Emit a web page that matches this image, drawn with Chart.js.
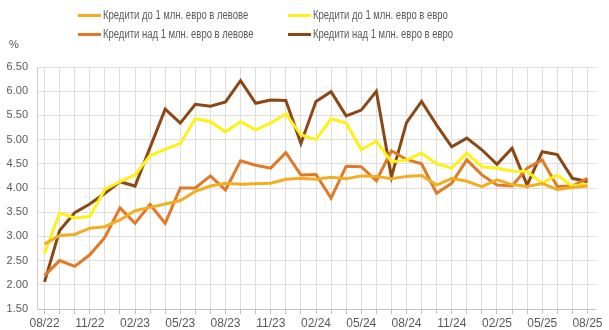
<!DOCTYPE html>
<html lang="bg">
<head>
<meta charset="utf-8">
<title>Лихвени проценти по кредити</title>
<script src="https://cdn.jsdelivr.net/npm/chart.js@4/dist/chart.umd.min.js"></script>
<style>
  body { margin: 0; background: #fff; }
  #caja { position: relative; width: 609px; height: 330px; font-family: "Liberation Sans", Arial, sans-serif; color: #595959; }
  #grafico { position: absolute; left: 0; top: 0; }
  .leyenda { position: absolute; display: flex; align-items: center; font-size: 12px; white-space: nowrap; }
  .leyenda span.linea { display: inline-block; width: 23px; height: 3px; margin-right: 2px; }
  .leyenda span.texto { display: inline-block; transform: scaleX(0.79); transform-origin: left center; }
  #pct { position: absolute; left: 9px; top: 38px; font-size: 11px; }
</style>
</head>
<body>
<div id="caja">
  <canvas id="grafico" width="609" height="330"></canvas>
  <div id="leyendas"></div>
  <div id="pct">%</div>
</div>
<script>
const meses = [
  "08/22", "09/22", "10/22", "11/22", "12/22", "01/23", "02/23", "03/23", "04/23", "05/23",
  "06/23", "07/23", "08/23", "09/23", "10/23", "11/23", "12/23", "01/24", "02/24", "03/24",
  "04/24", "05/24", "06/24", "07/24", "08/24", "09/24", "10/24", "11/24", "12/24", "01/25",
  "02/25", "03/25", "04/25", "05/25", "06/25", "07/25", "08/25"
];

const hastaMillonLeva = [
  2.84, 3.02, 3.04, 3.17, 3.20, 3.34, 3.53, 3.60, 3.67, 3.74,
  3.93, 4.04, 4.10, 4.08, 4.09, 4.10, 4.18, 4.20, 4.18, 4.22,
  4.19, 4.25, 4.24, 4.19, 4.24, 4.26, 4.06, 4.20, 4.14, 4.03,
  4.17, 4.07, 4.03, 4.09, 3.97, 4.01, 4.04
];

const hastaMillonEuro = [
  2.65, 3.48, 3.38, 3.41, 3.97, 4.13, 4.27, 4.67, 4.80, 4.92,
  5.43, 5.37, 5.16, 5.37, 5.20, 5.34, 5.53, 5.10, 5.00, 5.43,
  5.34, 4.79, 4.97, 4.54, 4.58, 4.72, 4.50, 4.41, 4.72, 4.44,
  4.41, 4.35, 4.34, 4.10, 4.27, 4.04, 4.08
];

const masMillonLeva = [
  2.19, 2.50, 2.38, 2.62, 2.98, 3.59, 3.27, 3.66, 3.27, 4.00,
  4.00, 4.25, 3.96, 4.56, 4.47, 4.41, 4.73, 4.27, 4.28, 3.79,
  4.45, 4.44, 4.15, 4.77, 4.59, 4.50, 3.89, 4.10, 4.58, 4.27,
  4.06, 4.04, 4.41, 4.58, 4.03, 4.04, 4.20
];

const masMillonEuro = [
  2.06, 3.12, 3.49, 3.67, 3.89, 4.13, 4.04, 4.84, 5.63, 5.34,
  5.73, 5.69, 5.78, 6.22, 5.75, 5.82, 5.81, 4.92, 5.79, 5.99,
  5.49, 5.61, 6.00, 4.23, 5.35, 5.79, 5.30, 4.85, 5.03, 4.79,
  4.49, 4.82, 4.06, 4.75, 4.69, 4.20, 4.13
];

const series = [
  { label: "Кредити до 1 млн. евро в левове", data: hastaMillonLeva, color: "#F2AE22" },
  { label: "Кредити до 1 млн. евро в евро", data: hastaMillonEuro, color: "#FFF01A" },
  { label: "Кредити над 1 млн. евро в левове", data: masMillonLeva, color: "#E07A28" },
  { label: "Кредити над 1 млн. евро в евро", data: masMillonEuro, color: "#8C4814" }
];

// leyenda en dos columnas
const posLeyenda = [[78, 8], [288, 8], [78, 27], [288, 27]];
const leyendas = document.getElementById("leyendas");
series.forEach((s, i) => {
  const d = document.createElement("div");
  d.className = "leyenda";
  d.style.left = posLeyenda[i][0] + "px";
  d.style.top = posLeyenda[i][1] + "px";
  d.innerHTML = `<span class="linea" style="background:${s.color}"></span><span class="texto">${s.label}</span>`;
  leyendas.appendChild(d);
});

const gris = "#595959";
const rejilla = "#DEDEDE";
const fuente = "'Liberation Sans', Arial, sans-serif";

const ctx = document.getElementById("grafico").getContext("2d");
new Chart(ctx, {
  type: "line",
  data: {
    labels: meses,
    datasets: series.map(s => ({
      label: s.label,
      data: s.data,
      borderColor: s.color,
      backgroundColor: s.color,
      borderWidth: 3,
      pointRadius: 0,
      tension: 0
    }))
  },
  options: {
    responsive: false,
    animation: false,
    layout: { padding: { top: 67, right: 14, left: 0, bottom: 0 } },
    plugins: {
      legend: { display: false },
      tooltip: { enabled: false }
    },
    scales: {
      x: {
        offset: true,
        grid: { color: rejilla, tickLength: 5, tickColor: "#BFBFBF" },
        border: { color: "#BFBFBF" },
        ticks: {
          autoSkip: false,
          maxRotation: 0,
          padding: 2,
          color: gris,
          font: { family: fuente, size: 12 },
          callback: function (v, i) {
            return i % 3 === 0 ? this.getLabelForValue(v) : "";
          }
        },
        afterFit: s => { s.height = 21; }
      },
      y: {
        min: 1.5,
        max: 6.5,
        grid: { color: rejilla, drawTicks: false },
        border: { color: "#D0D0D0" },
        ticks: {
          stepSize: 0.25,
          padding: 9,
          color: gris,
          font: { family: fuente, size: 11 },
          callback: v => v.toFixed(2)
        },
        afterFit: s => { s.width = 37; }
      }
    }
  }
});
</script>
</body>
</html>
